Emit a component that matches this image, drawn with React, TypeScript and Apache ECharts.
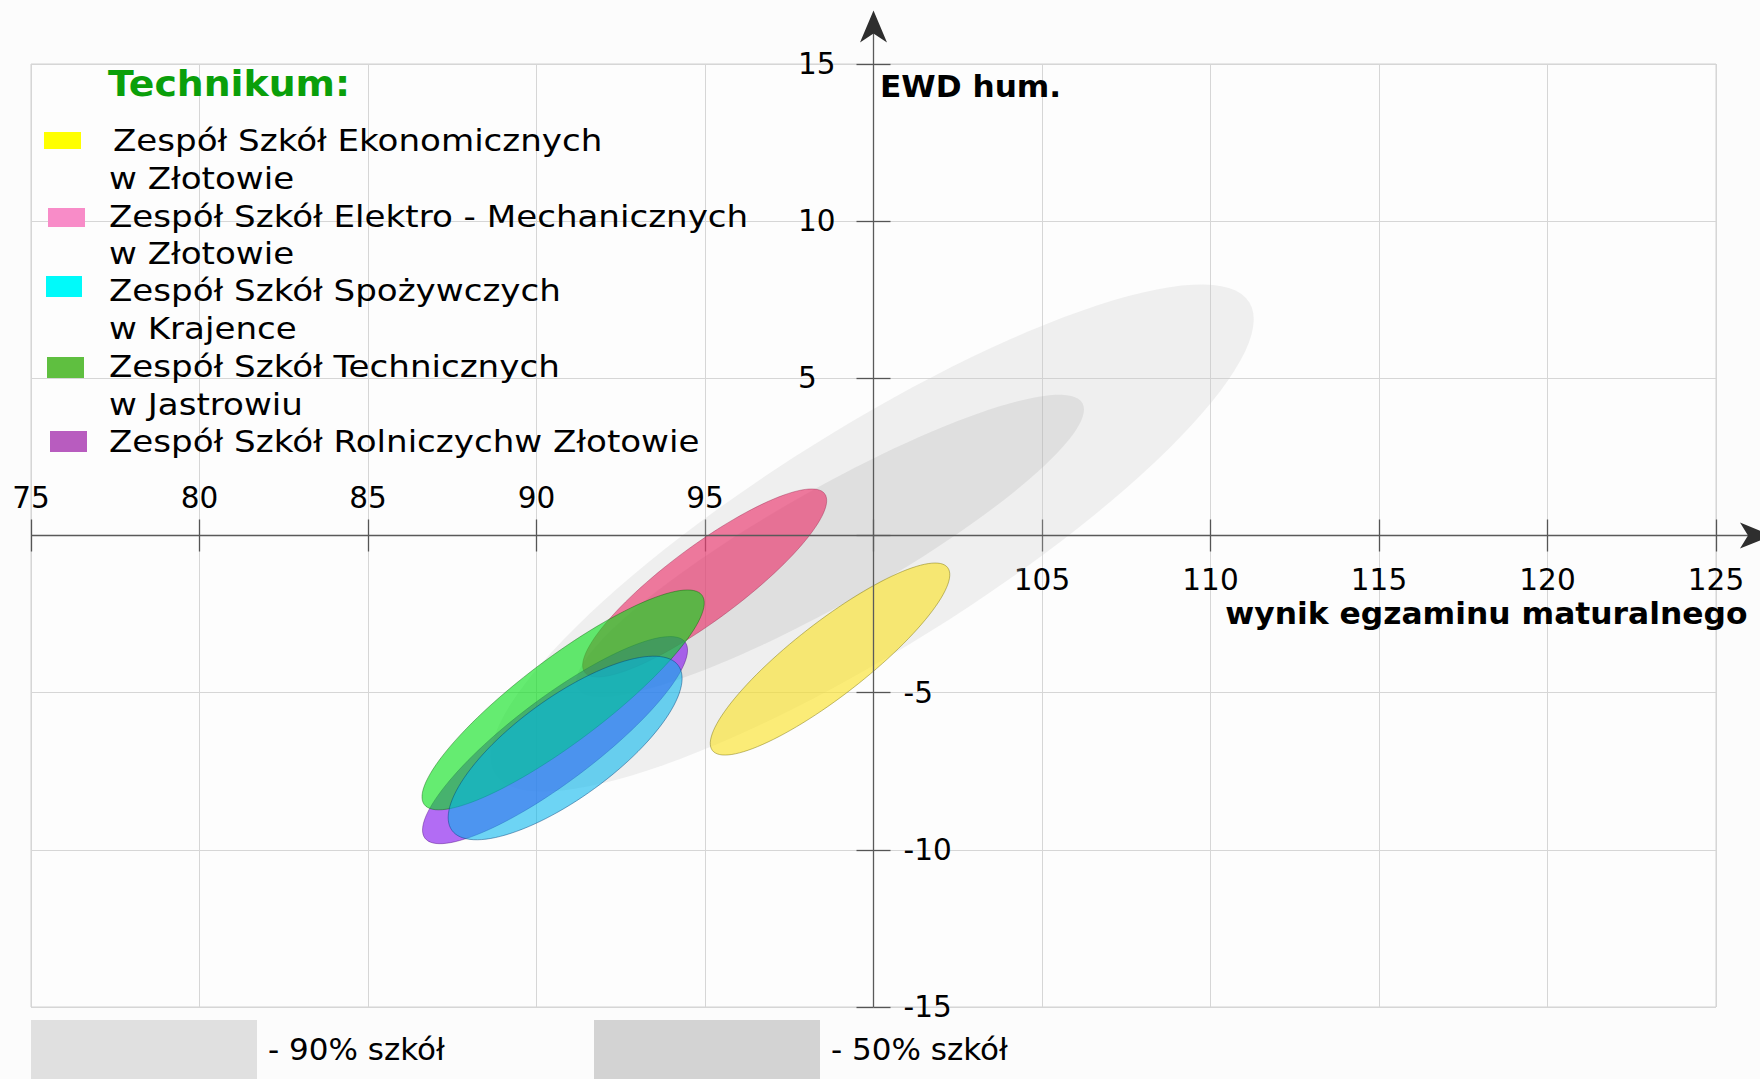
import React, { useEffect, useRef } from 'react';
import * as echarts from 'echarts';

// ---------- data ----------
const X_MIN = 75;
const X_MAX = 125;
const Y_MIN = -15;
const Y_MAX = 15;
const TICK_STEP = 5;

const bandNames = ['- 90% szkół', '- 50% szkół'];
// reference bands (ellipses): centre, end of major semi-axis, end of minor semi-axis (data units)
const bandCenter = [[99.96, -0.08], [98.71, -0.33]];
const bandMajorEnd = [[111.15, 7.42], [106.2, 4.21]];
const bandMinorEnd = [[101.69, -3.05], [99.54, -1.91]];

const schoolLines = [
  ['Zespół Szkół Ekonomicznych', 'w Złotowie'],
  ['Zespół Szkół Elektro - Mechanicznych', 'w Złotowie'],
  ['Zespół Szkół Spożywczych', 'w Krajence'],
  ['Zespół Szkół Technicznych', 'w Jastrowiu'],
  ['Zespół Szkół Rolniczychw Złotowie'],
];
const schoolCenter = [[98.71, -3.93], [94.99, -1.51], [90.85, -6.76], [90.79, -5.23], [90.55, -6.51]];
const schoolMajorEnd = [[102.2, -1.02], [98.55, 1.33], [94.21, -4.14], [94.91, -1.9], [94.41, -3.39]];
const schoolMinorEnd = [[99.38, -4.86], [95.65, -2.45], [91.72, -8.05], [91.54, -6.3], [91.3, -7.57]];

// ---------- styles / layout ----------
const W = 1760;
const H = 1079;
const GRID = { left: 31, top: 64, width: 1685, height: 943 };
const FONT = 'DejaVu Sans';
const swatchColors = ['#ffff00', '#f88cc8', '#00fafa', '#5fbf40', '#b85cbf'];
const schoolFill = [
  'rgba(250,225,30,0.6)',
  'rgba(235,40,100,0.6)',
  'rgba(0,181,237,0.57)',
  'rgba(0,225,20,0.6)',
  'rgba(128,12,238,0.6)',
];
const schoolStroke = [
  'rgba(120,110,0,0.45)',
  'rgba(140,20,60,0.35)',
  'rgba(0,60,120,0.45)',
  'rgba(0,90,0,0.4)',
  'rgba(70,0,120,0.4)',
];
const bandFill = ['rgba(200,200,200,0.25)', 'rgba(160,160,160,0.2)'];
const bandSwatch = ['#e0e0e0', '#d3d3d3'];
const drawOrder = [1, 0, 4, 3, 2];
const legendSwatch = [
  [44, 132, 37, 17],
  [48, 208, 37, 19],
  [46, 276, 36, 21],
  [47, 357, 37, 21],
  [50, 431, 37, 21],
];
const legendRowY = [141, 216.5, 291, 367, 442];
const legendTextX = [113, 109, 109, 109, 109];

function ellipseRenderer(fill: string, stroke: string) {
  return (params: any, api: any) => {
    const c = api.coord([api.value(0), api.value(1)]);
    const m = api.coord([api.value(2), api.value(3)]);
    const n = api.coord([api.value(4), api.value(5)]);
    const ax = m[0] - c[0];
    const ay = m[1] - c[1];
    const bx = n[0] - c[0];
    const by = n[1] - c[1];
    const pts: number[][] = [];
    const N = 120;
    for (let i = 0; i < N; i++) {
      const t = (i / N) * Math.PI * 2;
      pts.push([c[0] + ax * Math.cos(t) + bx * Math.sin(t), c[1] + ay * Math.cos(t) + by * Math.sin(t)]);
    }
    return {
      type: 'polygon',
      shape: { points: pts },
      style: { fill, stroke, lineWidth: stroke === 'none' ? 0 : 1 },
    };
  };
}

function text(x: number, y: number, str: string, opts: any = {}) {
  const align = opts.align || 'left';
  return {
    type: 'text',
    x,
    y,
    scaleX: opts.scaleX || 1,
    z: 20,
    style: {
      text: str,
      fill: opts.fill || '#000',
      fontSize: opts.size || 31,
      fontFamily: FONT,
      fontWeight: opts.weight || 'normal',
      align,
      textAlign: align,
      verticalAlign: 'middle',
      textVerticalAlign: 'middle',
    },
  };
}

export default function App() {
  const ref = useRef<HTMLDivElement>(null);
  useEffect(() => {
    if (!ref.current) return;
    const chart = echarts.init(ref.current, undefined, { renderer: 'svg' });
    const X0 = GRID.left + (GRID.width * (100 - X_MIN)) / (X_MAX - X_MIN);
    const Y0 = GRID.top + (GRID.height * (Y_MAX - 0)) / (Y_MAX - Y_MIN);
    const xOff = -(GRID.top + GRID.height - Y0);
    const yOff = -(X0 - GRID.left);

    const labelStyle = { fontFamily: FONT, fontSize: 29.5, color: '#000' };
    const tickStyle = { color: '#555', width: 1.3 };
    const splitStyle = { color: '#d6d6d6', width: 1 };

    const series: any[] = [];
    bandCenter.forEach((c, i) => {
      series.push({
        type: 'custom',
        name: bandNames[i],
        xAxisIndex: 0,
        yAxisIndex: 0,
        silent: true,
        clip: false,
        z: 2,
        data: [[c[0], c[1], bandMajorEnd[i][0], bandMajorEnd[i][1], bandMinorEnd[i][0], bandMinorEnd[i][1]]],
        renderItem: ellipseRenderer(bandFill[i], 'none'),
      });
    });
    drawOrder.forEach((i) => {
      series.push({
        type: 'custom',
        name: schoolLines[i].join(' '),
        xAxisIndex: 0,
        yAxisIndex: 0,
        silent: true,
        clip: false,
        z: 3,
        data: [[
          schoolCenter[i][0], schoolCenter[i][1],
          schoolMajorEnd[i][0], schoolMajorEnd[i][1],
          schoolMinorEnd[i][0], schoolMinorEnd[i][1],
        ]],
        renderItem: ellipseRenderer(schoolFill[i], schoolStroke[i]),
      });
    });

    const graphics: any[] = [];
    // axis lines with arrows
    graphics.push({
      type: 'line', z: 10,
      shape: { x1: GRID.left, y1: Y0, x2: W - 12, y2: Y0 },
      style: { stroke: '#5a5a5a', lineWidth: 1.3 },
    });
    graphics.push({
      type: 'polygon', z: 11,
      shape: { points: [[W + 12, Y0], [W - 20, Y0 + 13], [W - 12, Y0], [W - 20, Y0 - 13]] },
      style: { fill: '#2e2e2e' },
    });
    graphics.push({
      type: 'line', z: 10,
      shape: { x1: X0, y1: GRID.top + GRID.height, x2: X0, y2: 33 },
      style: { stroke: '#5a5a5a', lineWidth: 1.3 },
    });
    graphics.push({
      type: 'polygon', z: 11,
      shape: { points: [[X0, 10.5], [X0 + 13.5, 42.5], [X0, 33.5], [X0 - 13.5, 42.5]] },
      style: { fill: '#2e2e2e' },
    });
    // axis names
    graphics.push(text(880, 87, 'EWD hum.', { size: 30, weight: 'bold', scaleX: 1.04 }));
    graphics.push(text(1747.5, 614, 'wynik egzaminu maturalnego', { size: 30, weight: 'bold', scaleX: 1.045, align: 'right' }));
    // legend
    graphics.push(text(108, 84.2, 'Technikum:', { size: 36, weight: 'bold', fill: '#0a9f0a', scaleX: 1.05 }));
    schoolLines.forEach((lines, i) => {
      const s = legendSwatch[i];
      graphics.push({ type: 'rect', z: 20, shape: { x: s[0], y: s[1], width: s[2], height: s[3] }, style: { fill: swatchColors[i] } });
      lines.forEach((ln, j) => {
        graphics.push(text(j === 0 ? legendTextX[i] : 109, legendRowY[i] + j * 37.5, ln, { size: 31, scaleX: 1.1 }));
      });
    });
    // bottom legend
    const bandSwatchX = [31, 594];
    bandNames.forEach((nm, i) => {
      graphics.push({ type: 'rect', z: 20, shape: { x: bandSwatchX[i], y: 1020, width: 226, height: 59 }, style: { fill: bandSwatch[i] } });
      graphics.push(text(bandSwatchX[i] + 237, 1048.7, nm, { size: 31, scaleX: 1.0 }));
    });

    const option: any = {
      animation: false,
      backgroundColor: '#fcfcfc',
      grid: {
        left: GRID.left,
        top: GRID.top,
        width: GRID.width,
        height: GRID.height,
        containLabel: false,
        outerBoundsMode: 'none',
        show: true,
        backgroundColor: '#fdfdfd',
        borderColor: '#d2d2d2',
        borderWidth: 1,
      },
      xAxis: [
        {
          type: 'value', position: 'bottom', min: X_MIN, max: X_MAX, interval: TICK_STEP, offset: xOff,
          axisLine: { show: false, onZero: false },
          axisTick: { show: true, length: 16, lineStyle: tickStyle },
          axisLabel: { ...labelStyle, margin: 29, formatter: (v: number) => (v > 100 ? String(v) : '') },
          splitLine: { show: true, lineStyle: splitStyle },
        },
        {
          type: 'value', position: 'top', min: X_MIN, max: X_MAX, interval: TICK_STEP, offset: xOff,
          axisLine: { show: false, onZero: false },
          axisTick: { show: true, length: 16, lineStyle: tickStyle },
          axisLabel: { ...labelStyle, margin: 22.5, formatter: (v: number) => (v < 100 ? String(v) : '') },
          splitLine: { show: false },
        },
      ],
      yAxis: [
        {
          type: 'value', position: 'left', min: Y_MIN, max: Y_MAX, interval: TICK_STEP, offset: yOff,
          axisLine: { show: false, onZero: false },
          axisTick: { show: true, length: 17, lineStyle: tickStyle },
          axisLabel: { ...labelStyle, margin: 75.5, align: 'left', formatter: (v: number) => (v > 0 ? String(v) : '') },
          splitLine: { show: true, lineStyle: splitStyle },
        },
        {
          type: 'value', position: 'right', min: Y_MIN, max: Y_MAX, interval: TICK_STEP, offset: yOff,
          axisLine: { show: false, onZero: false },
          axisTick: { show: true, length: 17, lineStyle: tickStyle },
          axisLabel: { ...labelStyle, margin: 30, formatter: (v: number) => (v < 0 ? String(v) : '') },
          splitLine: { show: false },
        },
      ],
      series,
      graphic: { elements: graphics },
    };
    chart.setOption(option);
    return () => chart.dispose();
  }, []);
  return (
    <div
      ref={ref}
      style={{ position: 'absolute', left: 0, top: 0, width: W, height: H, background: '#fcfcfc' }}
    />
  );
}
